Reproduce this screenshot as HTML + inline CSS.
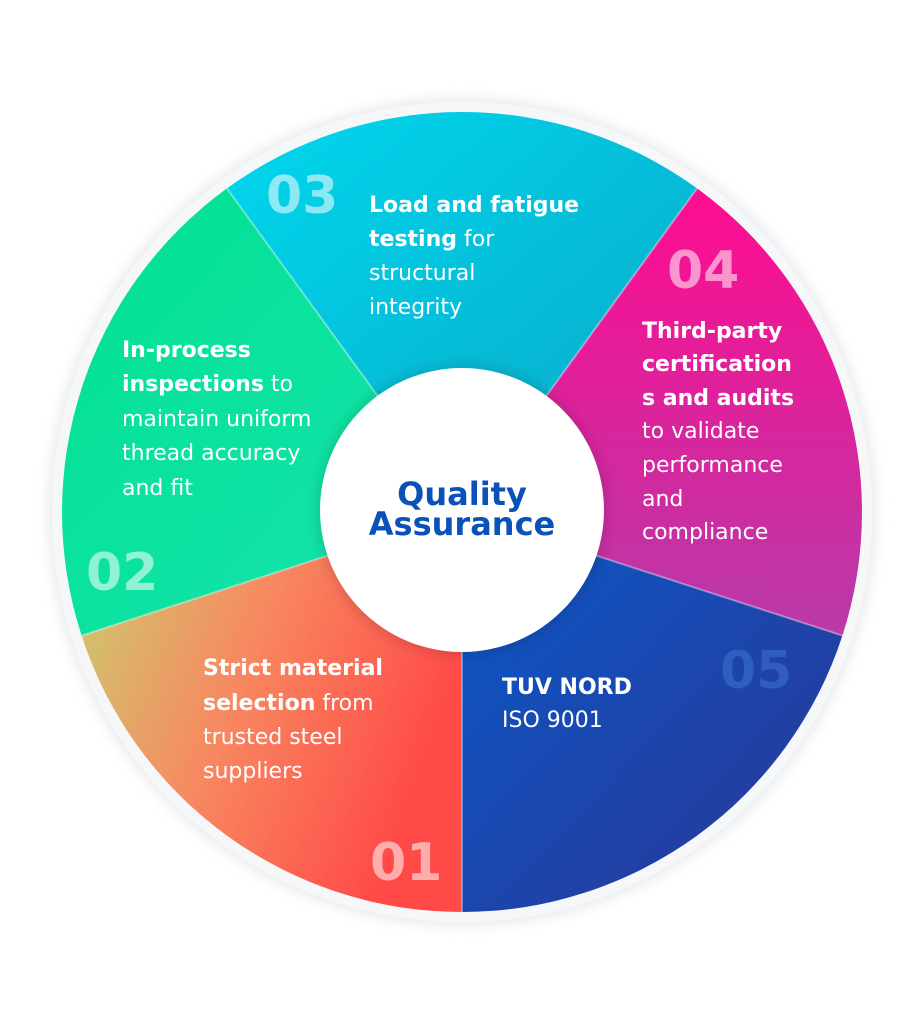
<!DOCTYPE html>
<html><head><meta charset="utf-8"><style>
html,body{margin:0;padding:0;background:#fff;}
svg{display:block;}
text{font-family:"DejaVu Sans","Liberation Sans",sans-serif;}
.t{font-size:22px;fill:#fff;}
.b{font-weight:bold;}
.n{font-size:52px;font-weight:bold;fill:#fff;fill-opacity:0.55;}
</style></head><body>
<svg width="924" height="1024" viewBox="0 0 924 1024" xmlns="http://www.w3.org/2000/svg">
<defs>
<linearGradient id="g3" x1="0" y1="0" x2="1" y2="1"><stop offset="0" stop-color="#00d8ee"/><stop offset="1" stop-color="#0aa6c6"/></linearGradient>
<linearGradient id="g4" x1="0" y1="0" x2="0" y2="1"><stop offset="0" stop-color="#ff0c90"/><stop offset="1" stop-color="#b83aa8"/></linearGradient>
<linearGradient id="g5" x1="0" y1="0" x2="1" y2="1"><stop offset="0" stop-color="#0a58c8"/><stop offset="1" stop-color="#2c3594"/></linearGradient>
<linearGradient id="g1" x1="0" y1="0" x2="1" y2="0.4"><stop offset="0" stop-color="#c8d070"/><stop offset="0.5" stop-color="#f88860"/><stop offset="1" stop-color="#ff4a48"/></linearGradient>
<linearGradient id="g2" x1="0" y1="0" x2="1" y2="1"><stop offset="0" stop-color="#00e090"/><stop offset="1" stop-color="#18e4b0"/></linearGradient>
<filter id="sh" x="-10%" y="-10%" width="120%" height="120%"><feGaussianBlur stdDeviation="6"/></filter>
</defs>
<circle cx="462" cy="512" r="414" fill="#e8eaee" filter="url(#sh)"/>
<circle cx="462" cy="512" r="410" fill="#f6f7f9"/>
<path d="M462 512 L226.9 188.4 A400 400 0 0 1 697.1 188.4 Z" fill="url(#g3)"/>
<path d="M462 512 L697.1 188.4 A400 400 0 0 1 842.4 635.6 Z" fill="url(#g4)"/>
<path d="M462 512 L842.4 635.6 A400 400 0 0 1 462 912 Z" fill="url(#g5)"/>
<path d="M462 512 L462 912 A400 400 0 0 1 81.6 635.6 Z" fill="url(#g1)"/>
<path d="M462 512 L81.6 635.6 A400 400 0 0 1 226.9 188.4 Z" fill="url(#g2)"/>
<g stroke="#ffffff" stroke-opacity="0.35" stroke-width="2">
<line x1="462" y1="512" x2="226.9" y2="188.4"/><line x1="462" y1="512" x2="697.1" y2="188.4"/>
<line x1="462" y1="512" x2="842.4" y2="635.6"/><line x1="462" y1="512" x2="462" y2="912"/>
<line x1="462" y1="512" x2="81.6" y2="635.6"/>
</g>
<circle cx="462" cy="510" r="146" fill="#000" fill-opacity="0.12" filter="url(#sh)"/>
<circle cx="462" cy="510" r="142" fill="#fff"/>
<text x="462" y="505" text-anchor="middle" font-size="32" font-weight="bold" fill="#0a52b8">Quality</text>
<text x="462" y="535" text-anchor="middle" font-size="32" font-weight="bold" fill="#0a52b8">Assurance</text>

<text class="n" x="266" y="213">03</text>
<text class="t" x="369" y="212"><tspan class="b">Load and fatigue</tspan></text>
<text class="t" x="369" y="246"><tspan class="b">testing</tspan> for</text>
<text class="t" x="369" y="280">structural</text>
<text class="t" x="369" y="314">integrity</text>

<text class="n" x="667" y="288">04</text>
<text class="t" x="642" y="338"><tspan class="b">Third-party</tspan></text>
<text class="t" x="642" y="371"><tspan class="b">certification</tspan></text>
<text class="t" x="642" y="405"><tspan class="b">s and audits</tspan></text>
<text class="t" x="642" y="438">to validate</text>
<text class="t" x="642" y="472">performance</text>
<text class="t" x="642" y="506">and</text>
<text class="t" x="642" y="539">compliance</text>

<text class="t" x="122" y="357"><tspan class="b">In-process</tspan></text>
<text class="t" x="122" y="391"><tspan class="b">inspections</tspan> to</text>
<text class="t" x="122" y="426">maintain uniform</text>
<text class="t" x="122" y="460">thread accuracy</text>
<text class="t" x="122" y="495">and fit</text>
<text class="n" x="86" y="590">02</text>

<text class="t" x="203" y="675"><tspan class="b">Strict material</tspan></text>
<text class="t" x="203" y="710"><tspan class="b">selection</tspan> from</text>
<text class="t" x="203" y="744">trusted steel</text>
<text class="t" x="203" y="778">suppliers</text>
<text class="n" x="370" y="880">01</text>

<text class="t" x="502" y="694"><tspan class="b">TUV NORD</tspan></text>
<text class="t" x="502" y="727">ISO 9001</text>
<text class="n" x="720" y="688" style="fill:#3a70d0;fill-opacity:0.6">05</text>
</svg>
</body></html>
